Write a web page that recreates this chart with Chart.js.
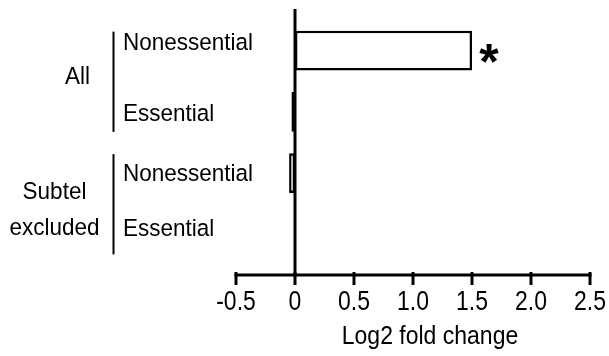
<!DOCTYPE html>
<html>
<head>
<meta charset="utf-8">
<script src="https://cdn.jsdelivr.net/npm/chart.js@4.4.1/dist/chart.umd.min.js"></script>
<style>
  html, body { margin: 0; padding: 0; background: #ffffff; }
  #wrap { width: 609px; height: 356px; position: relative; }
</style>
</head>
<body>
<div id="wrap"><canvas id="chart" width="609" height="356"></canvas></div>
<script>
// Rows of the horizontal bar chart, top to bottom
const categories = ['Nonessential', 'Essential', 'Nonessential', 'Essential'];
// Row groups: label lines and which rows they span
const groupLabels = [['All'], ['Subtel', 'excluded']];
const groupRows = [[0, 1], [2, 3]];
// Log2 fold change per row
const foldChange = [1.5, -0.03, -0.05, 0];
// Significance marks per row
const significance = ['*', '', '', ''];
// X axis ticks
const xTickValues = [-0.5, 0, 0.5, 1.0, 1.5, 2.0, 2.5];
const xTickLabels = ['-0.5', '0', '0.5', '1.0', '1.5', '2.0', '2.5'];
const xTitle = 'Log2 fold change';

const FONT = '"Liberation Sans", Arial, Helvetica, sans-serif';
const INK = '#000000';

// Text drawn slightly taller than wide, like the condensed Helvetica look
function tallText(ctx, text, x, y, size, stretch) {
  ctx.save();
  ctx.font = size + 'px ' + FONT;
  ctx.translate(x, y);
  ctx.scale(1, stretch);
  ctx.fillText(text, 0, 0);
  ctx.restore();
}

// Draws the axis lines, tick marks, labels, group brackets and stars
const annotations = {
  id: 'annotations',
  afterDatasetsDraw(chart) {
    const ctx = chart.ctx;
    const xs = chart.scales.x;
    const ys = chart.scales.y;
    const x0 = xs.getPixelForValue(0);
    const axisY = ys.bottom + 10;

    ctx.save();
    ctx.strokeStyle = INK;
    ctx.fillStyle = INK;
    ctx.lineCap = 'butt';

    // vertical zero line
    ctx.lineWidth = 3;
    ctx.beginPath();
    ctx.moveTo(x0, ys.top - 11);
    ctx.lineTo(x0, axisY + 1.5);
    ctx.stroke();

    // horizontal axis with downward tick marks and tick labels
    const xl = xs.getPixelForValue(xTickValues[0]);
    const xr = xs.getPixelForValue(xTickValues[xTickValues.length - 1]);
    ctx.beginPath();
    ctx.moveTo(xl - 1.5, axisY);
    ctx.lineTo(xr + 1.5, axisY);
    ctx.stroke();
    ctx.textAlign = 'center';
    ctx.textBaseline = 'middle';
    xTickValues.forEach((v, i) => {
      const px = xs.getPixelForValue(v);
      ctx.beginPath();
      ctx.moveTo(px, axisY - 3);
      ctx.lineTo(px, axisY + 10);
      ctx.stroke();
      tallText(ctx, xTickLabels[i], px, axisY + 27, 23, 1.2);
    });

    // row labels: within each group the first sits a little high, the last a little low
    const nudge = [-7, 2.5, 1, -5];
    ctx.textAlign = 'left';
    categories.forEach((c, i) => {
      tallText(ctx, c, 123, ys.getPixelForValue(i) + nudge[i], 22.5, 1.08);
    });

    // group brackets and names
    const half = 20;
    ctx.lineWidth = 2;
    groupRows.forEach((rows, g) => {
      const yTop = ys.getPixelForValue(rows[0]) - half + 1;
      const yBot = ys.getPixelForValue(rows[rows.length - 1]) + half;
      ctx.beginPath();
      ctx.moveTo(113.5, yTop);
      ctx.lineTo(113.5, yBot);
      ctx.stroke();
      const mid = (yTop + yBot) / 2;
      const lines = groupLabels[g];
      ctx.textAlign = 'center';
      if (lines.length === 1) {
        tallText(ctx, lines[0], 77.5, mid - 4, 22.5, 1.05);
      } else {
        tallText(ctx, lines[0], 54.5, mid - 12, 22.5, 1.08);
        tallText(ctx, lines[1], 54.5, mid + 24, 22.5, 1.08);
      }
    });

    // significance stars beside the bars
    ctx.font = 'bold 50px ' + FONT;
    ctx.textAlign = 'center';
    ctx.textBaseline = 'alphabetic';
    significance.forEach((s, i) => {
      if (!s) return;
      const px = xs.getPixelForValue(Math.max(foldChange[i], 0)) + 17;
      ctx.fillText(s, px, ys.getPixelForValue(i) + 28);
    });

    // axis title
    ctx.textAlign = 'center';
    ctx.textBaseline = 'middle';
    tallText(ctx, xTitle, 430, 337, 23, 1.12);

    ctx.restore();
  }
};

new Chart(document.getElementById('chart'), {
  type: 'bar',
  data: {
    labels: categories,
    datasets: [{
      data: foldChange,
      backgroundColor: '#ffffff',
      borderColor: INK,
      borderWidth: 2.5,
      borderSkipped: false,
      barPercentage: 0.65,
      categoryPercentage: 1.0
    }]
  },
  options: {
    indexAxis: 'y',
    responsive: false,
    animation: false,
    layout: { padding: { left: 236, right: 19, top: 20, bottom: 91 } },
    plugins: {
      legend: { display: false },
      tooltip: { enabled: false },
      title: { display: false }
    },
    scales: {
      y: {
        type: 'category',
        display: false,
        offset: true
      },
      x: {
        type: 'linear',
        display: false,
        min: -0.5,
        max: 2.5
      }
    }
  },
  plugins: [annotations]
});
</script>
</body>
</html>
